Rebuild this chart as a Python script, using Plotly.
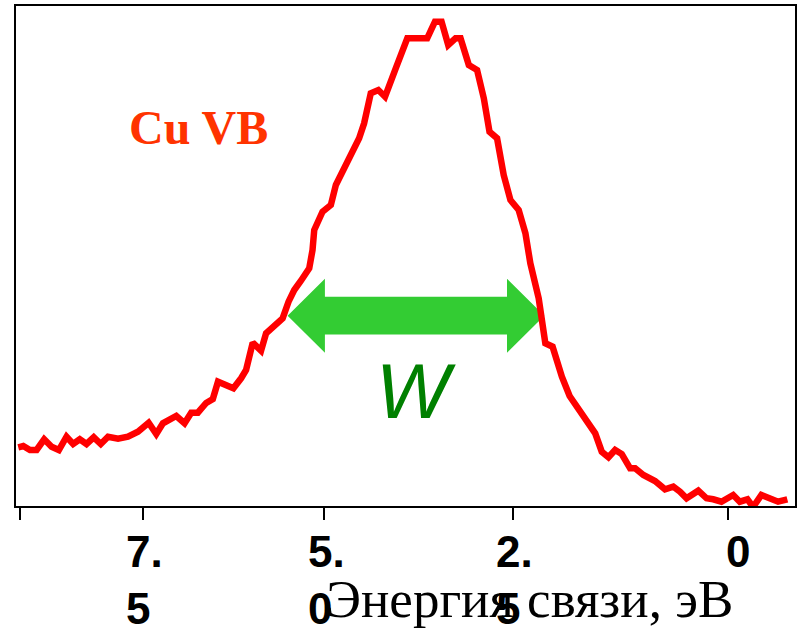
import plotly.graph_objects as go

# ---- data (binding energy in eV, intensity in arb. units) ----
energy = [9.093, 9.029, 8.943, 8.858, 8.761, 8.666, 8.573, 8.475, 8.390, 8.305,
          8.219, 8.126, 8.036, 7.943, 7.815, 7.688, 7.560, 7.423, 7.325, 7.240,
          7.069, 6.963, 6.878, 6.793, 6.686, 6.601, 6.535, 6.410, 6.337, 6.239,
          6.175, 6.090, 5.983, 5.919, 5.813, 5.707, 5.631, 5.558, 5.472, 5.366,
          5.324, 5.302, 5.196, 5.089, 5.025, 4.855, 4.727, 4.663, 4.578, 4.481,
          4.395, 4.258, 4.110, 3.855, 3.756, 3.671, 3.586, 3.492, 3.428, 3.322,
          3.216, 3.130, 3.057, 2.960, 2.875, 2.789, 2.683, 2.597, 2.534, 2.427,
          2.376, 2.342, 2.249, 2.172, 2.130, 2.031, 1.895, 1.789, 1.703, 1.619,
          1.533, 1.448, 1.363, 1.256, 1.192, 1.086, 0.937, 0.809, 0.703, 0.617,
          0.533, 0.383, 0.277, 0.192, 0.086, -0.064, -0.149, -0.247, -0.319, -0.425,
          -0.533, -0.639, -0.758]
intensity = [11.74, 12.0, 11.2, 11.2, 13.34, 11.86, 11.2, 13.86, 12.4, 13.34,
             12.4, 13.74, 12.4, 13.86, 13.46, 13.86, 14.86, 16.66, 14.4, 16.54,
             18.0, 16.54, 18.66, 18.66, 20.6, 21.4, 24.86, 23.86, 23.54, 25.54,
             27.2, 32.66, 31.06, 34.54, 36.2, 37.54, 40.86, 43.2, 45.06, 47.54,
             51.2, 55.2, 58.86, 60.2, 64.2, 69.86, 73.54, 76.54, 82.54, 83.2,
             81.86, 87.54, 93.54, 93.54, 96.86, 96.86, 92.2, 93.54, 93.54, 88.2,
             87.2, 81.54, 74.86, 73.54, 66.2, 61.2, 59.2, 54.54, 48.54, 41.54,
             37.2, 32.54, 31.86, 27.86, 25.86, 22.0, 18.86, 16.0, 14.54, 10.86,
             9.74, 11.2, 10.4, 7.54, 7.54, 6.2, 5.0, 3.34, 3.86, 2.86,
             1.54, 3.06, 1.54, 1.34, 0.86, 2.2, 0.86, 1.34, -0.2, 2.2,
             1.54, 0.86, 1.34]

tick_vals = [9.071, 7.496, 5.174, 2.760, 0.0]
tick_text = ["", "7.<br>5", "5.<br>0", "2.<br>5", "0"]

w_left = 5.643      # FWHM arrow ends (eV)
w_right = 2.355
w_level = 38.06     # arrow height (intensity)

label_title = "Энергия связи, эВ"
label_sample = "Cu VB"
label_width = "W"

X_RANGE = [9.122, -0.856]
Y_RANGE = [0, 100]

# ---- layout geometry ----
W_PX, H_PX = 800, 630
M_L, M_R, M_T, M_B = 16, 3, 6, 124
plot_w = W_PX - M_L - M_R
plot_h = H_PX - M_T - M_B
ev_per_px = (X_RANGE[0] - X_RANGE[1]) / plot_w
int_per_px = (Y_RANGE[1] - Y_RANGE[0]) / plot_h

fig = go.Figure()
fig.add_trace(go.Scatter(x=energy, y=intensity, mode="lines",
                         line=dict(color="#FF0000", width=6.5),
                         hoverinfo="skip", showlegend=False))

# double-headed arrow as a filled path
head_len = 37.4 * ev_per_px
head_half = 37.0 * int_per_px
shaft_half = 18.9 * int_per_px
pts = [
    (w_left, w_level),
    (w_left - head_len, w_level + head_half),
    (w_left - head_len, w_level + shaft_half),
    (w_right + head_len, w_level + shaft_half),
    (w_right + head_len, w_level + head_half),
    (w_right, w_level),
    (w_right + head_len, w_level - head_half),
    (w_right + head_len, w_level - shaft_half),
    (w_left - head_len, w_level - shaft_half),
    (w_left - head_len, w_level - head_half),
]
path = "M " + " L ".join(f"{x:.4f},{y:.4f}" for x, y in pts) + " Z"
fig.add_shape(type="path", path=path, xref="x", yref="y",
              fillcolor="#33CC33", line=dict(width=0), layer="below")

# tick labels as annotations (left-aligned lines)
for v, t in zip(tick_vals, tick_text):
    if not t:
        continue
    fig.add_annotation(x=v, y=0, xref="x", yref="paper", text=t,
                       showarrow=False, xanchor="center", yanchor="top",
                       align="left", yshift=-19,
                       xshift=10 if "<br>" not in t else 2,
                       font=dict(family="Liberation Sans", size=44,
                                 color="#000000", weight="bold"))

fig.add_annotation(x=(531 - M_L) / plot_w, y=-(599 - 506) / plot_h,
                   xref="paper", yref="paper", text=label_title,
                   showarrow=False, xanchor="center", yanchor="middle",
                   font=dict(family="Liberation Serif", size=53, color="#000000"))

fig.add_annotation(x=(198.5 - M_L) / plot_w, y=(506 - 127) / plot_h,
                   xref="paper", yref="paper", text="<b>" + label_sample + "</b>",
                   showarrow=False, xanchor="center", yanchor="middle",
                   font=dict(family="Liberation Serif", size=48, color="#FF3300"))

fig.add_annotation(x=(w_left + w_right) / 2, y=(506 - 391) / plot_h,
                   xref="x", yref="paper", text="<i>" + label_width + "</i>",
                   showarrow=False, xanchor="center", yanchor="middle",
                   font=dict(family="Liberation Sans", size=78, color="#008000"))

fig.update_layout(
    width=W_PX, height=H_PX,
    margin=dict(l=M_L, r=M_R, t=M_T, b=M_B, pad=0),
    paper_bgcolor="white", plot_bgcolor="white",
    xaxis=dict(range=X_RANGE, showgrid=False, zeroline=False,
               showline=True, linecolor="black", linewidth=2, mirror=True,
               ticks="outside", ticklen=12, tickwidth=2, tickcolor="black",
               tickvals=tick_vals, showticklabels=False),
    yaxis=dict(range=Y_RANGE, showgrid=False, zeroline=False,
               showline=True, linecolor="black", linewidth=2, mirror=True,
               ticks="", showticklabels=False),
)

fig.write_html("out.html")
